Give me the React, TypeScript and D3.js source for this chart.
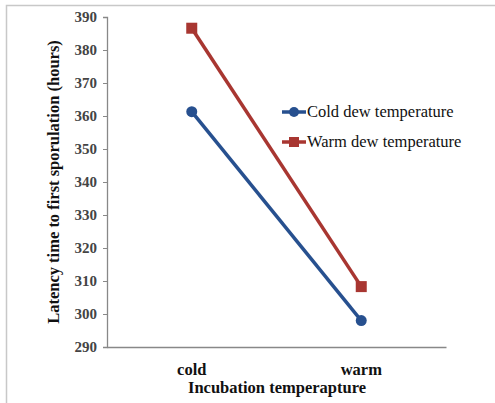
import React, { useEffect, useRef } from 'react';
import * as d3 from 'd3';

const categories = ['cold', 'warm'];
const coldDew = [361.3, 298];
const warmDew = [386.6, 308.3];
const seriesNames = ['Cold dew temperature', 'Warm dew temperature'];
const yTicks = [290, 300, 310, 320, 330, 340, 350, 360, 370, 380, 390];

const App: React.FC = () => {
  const svgRef = useRef<SVGSVGElement>(null);

  useEffect(() => {
    if (!svgRef.current) return;
    const svg = d3.select(svgRef.current);
    svg.selectAll('*').remove();

    const font = '"Liberation Serif", "Times New Roman", serif';
    const left = 107, right = 446, top = 17, bottom = 347;

    // frame (left and top edges only)
    svg.append('path')
      .attr('d', 'M6.5,403 L6.5,5.5 L495,5.5')
      .attr('fill', 'none')
      .attr('stroke', '#c8c8c8')
      .attr('stroke-width', 1.5);

    const x = d3.scaleBand().domain(categories).range([left, right]);
    const y = d3.scaleLinear().domain([290, 390]).range([bottom, top]);

    const yAxis = svg.append('g')
      .attr('transform', `translate(${left},0)`)
      .call(d3.axisLeft(y).tickValues(yTicks).tickSize(4).tickPadding(6).tickFormat(d3.format('d')));
    yAxis.select('.domain').attr('stroke', '#888').attr('stroke-width', 1.3);
    yAxis.selectAll('.tick line').attr('stroke', '#888');
    yAxis.selectAll('text')
      .attr('font-family', font)
      .attr('font-size', 15)
      .attr('font-weight', 'bold')
      .attr('fill', '#444');

    const xAxis = svg.append('g')
      .attr('transform', `translate(0,${bottom})`)
      .call(d3.axisBottom(x).tickSize(0).tickPadding(16).tickSizeOuter(0));
    xAxis.select('.domain').attr('stroke', '#888').attr('stroke-width', 1.3);
    xAxis.selectAll('text')
      .attr('font-family', font)
      .attr('font-size', 16.5)
      .attr('font-weight', 'bold')
      .attr('fill', '#111');

    svg.append('text')
      .attr('x', 277)
      .attr('y', 393)
      .attr('text-anchor', 'middle')
      .attr('font-family', font)
      .attr('font-size', 16.5)
      .attr('font-weight', 'bold')
      .attr('fill', '#111')
      .text('Incubation temperapture');

    svg.append('text')
      .attr('transform', `translate(59,182) rotate(-90)`)
      .attr('text-anchor', 'middle')
      .attr('font-family', font)
      .attr('font-size', 16.5)
      .attr('font-weight', 'bold')
      .attr('fill', '#111')
      .text('Latency time to first sporulation (hours)');

    const cx = (c: string) => (x(c) || 0) + x.bandwidth() / 2;
    const line = d3.line<number>().x((_, i) => cx(categories[i])).y(d => y(d));

    const series = [
      { name: seriesNames[0], values: coldDew, color: '#27508f', shape: 'circle' },
      { name: seriesNames[1], values: warmDew, color: '#a83631', shape: 'square' },
    ];

    series.forEach((s, si) => {
      svg.append('path')
        .datum(s.values)
        .attr('d', line)
        .attr('fill', 'none')
        .attr('stroke', s.color)
        .attr('stroke-width', 3.5);

      s.values.forEach((v, i) => {
        if (s.shape === 'circle') {
          svg.append('circle').attr('cx', cx(categories[i])).attr('cy', y(v)).attr('r', 5.5).attr('fill', s.color);
        } else {
          svg.append('rect').attr('x', cx(categories[i]) - 5.5).attr('y', y(v) - 5.5)
            .attr('width', 11).attr('height', 11).attr('fill', s.color);
        }
      });

      // legend
      const ly = 112 + si * 30;
      svg.append('line').attr('x1', 282).attr('x2', 306).attr('y1', ly).attr('y2', ly)
        .attr('stroke', s.color).attr('stroke-width', 3.5);
      if (s.shape === 'circle') {
        svg.append('circle').attr('cx', 294).attr('cy', ly).attr('r', 5).attr('fill', s.color);
      } else {
        svg.append('rect').attr('x', 289).attr('y', ly - 5).attr('width', 10).attr('height', 10).attr('fill', s.color);
      }
      svg.append('text')
        .attr('x', 307)
        .attr('y', ly + 5)
        .attr('font-family', font)
        .attr('font-size', 16.5)
        .attr('fill', '#111')
        .text(s.name);
    });
  }, []);

  return (
    <svg ref={svgRef} width={495} height={403}
      style={{ position: 'absolute', left: 0, top: 0, background: '#fff' }} />
  );
};

export default App;
